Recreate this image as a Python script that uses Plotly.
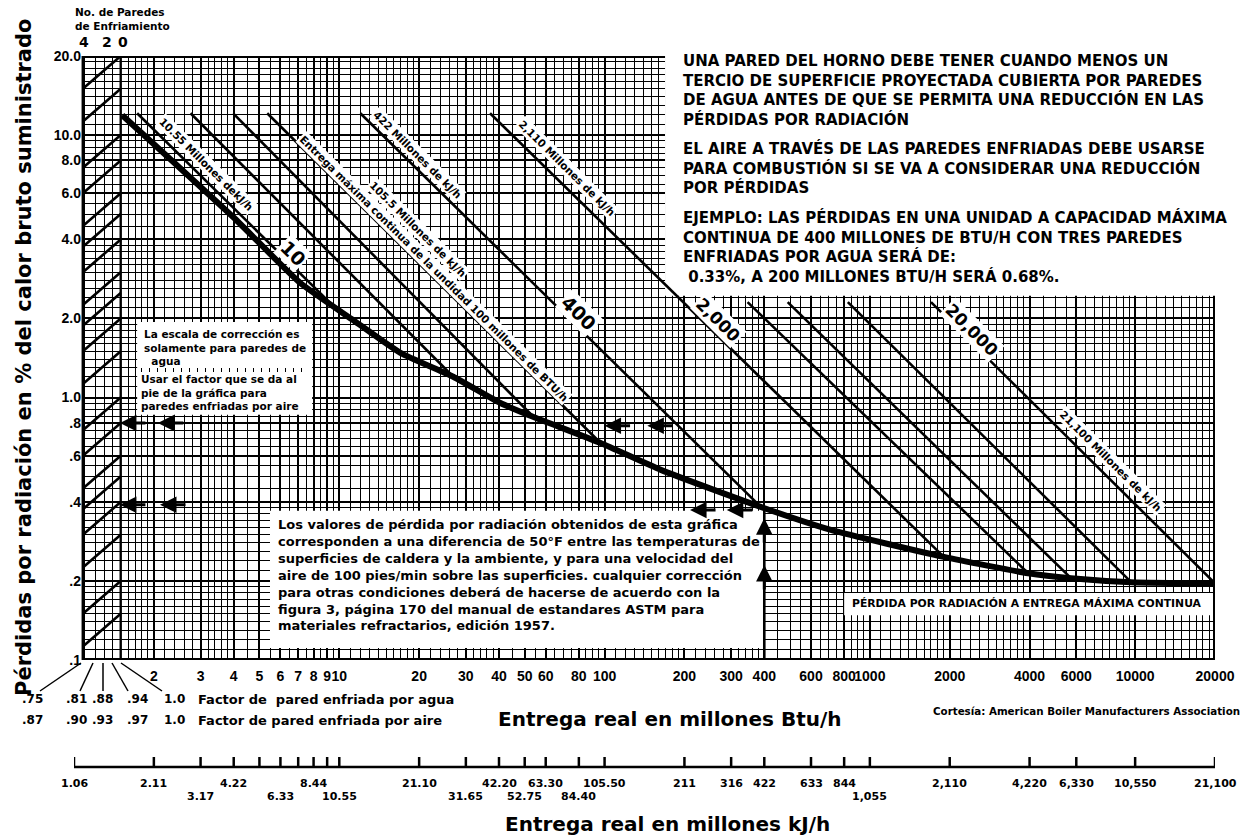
import math
import plotly.graph_objects as go

L = math.log10

# ---------------- DATA ----------------
# Envelope: radiation loss (%) at maximum continuous output (million Btu/h)
curve_output = [1.52, 3.98, 7.13, 11.3, 17.0, 26.9, 40.5, 54.0, 96.6, 163, 388, 713, 1900, 3950, 5730, 9660, 20000]
curve_loss = [11.9, 4.87, 2.73, 1.97, 1.48, 1.20, 0.953, 0.843, 0.671, 0.530, 0.383, 0.313, 0.247, 0.214, 0.205, 0.198, 0.196]

# Lines of constant maximum continuous output (start point -> end on envelope)
cap_start_x = [1.73, 2.75, 3.98, 5.35, 12.0, 37.0, 346, 490, 826, 1700]
cap_start_y = [12.1, 12.1, 12.1, 12.1, 12.1, 12.1, 2.31, 2.31, 2.31, 2.31]
cap_end_x = [10.0, 26.9, 54.0, 96.6, 388, 1900, 3950, 5730, 9660, 20000]
cap_end_y = [2.12, 1.20, 0.843, 0.671, 0.383, 0.247, 0.214, 0.205, 0.198, 0.196]

# Correction scale (number of cooled walls)
corr_loss_zero_walls = [20, 15, 10, 8, 6, 5, 4, 3, 2.5, 2, 1.5, 1.0, 0.8, 0.6, 0.5, 0.4, 0.3, 0.2, 0.15]
corr_factor_four_walls = 0.75
wall_counts = ["4", "2", "0"]
water_factor_labels = [".75", ".81", ".88", ".94", "1.0"]
air_factor_labels = [".87", ".90", ".93", ".97", "1.0"]

# Axis ticks
x_tick_vals = [2, 3, 4, 5, 6, 7, 8, 9, 10, 20, 30, 40, 50, 60, 80, 100, 200, 300, 400, 600, 800,
               1000, 2000, 4000, 6000, 10000, 20000]
x_tick_text = ["2", "3", "4", "5", "6", "7", "8", "9", "10", "20", "30", "40", "50", "60", "80", "100",
               "200", "300", "400", "600", "800", "1000", "2000", "4000", "6000", "10000", "20000"]
y_tick_vals = [0.1, 0.2, 0.4, 0.6, 0.8, 1, 2, 4, 6, 8, 10, 20]
y_tick_text = [".1", ".2", ".4", ".6", ".8", "1.0", "2.0", "4.0", "6.0", "8.0", "10.0", "20.0"]

# Secondary scale in million kJ/h (positions given in million Btu/h)
kj_tick_btu = [1, 2, 3, 4, 5, 6, 7, 8, 9, 10, 20, 30, 40, 50, 60, 80, 100, 200, 300, 400, 600, 800,
               1000, 2000, 4000, 6000, 10000, 20000]
kj_row1_btu = [1, 2, 4, 8, 20, 40, 60, 100, 200, 300, 400, 600, 800, 2000, 4000, 6000, 10000, 20000]
kj_row1_text = ["1.06", "2.11", "4.22", "8.44", "21.10", "42.20", "63.30", "105.50", "211", "316", "422",
                "633", "844", "2,110", "4,220", "6,330", "10,550", "21,100"]
kj_row2_btu = [3, 6, 10, 30, 50, 80, 1000]
kj_row2_text = ["3.17", "6.33", "10.55", "31.65", "52.75", "84.40", "1,055"]

# Worked example arrows (head positions)
ex_left_arrow_x = [1.49, 2.07, 1.49, 2.11, 100, 145, 210, 289]
ex_left_arrow_y = [0.80, 0.80, 0.39, 0.39, 0.78, 0.78, 0.373, 0.373]
ex_result_y = [0.68, 0.33]
ex_example_output = 400
ex_up_arrow_y = [0.347, 0.23]

# ---------------- LAYOUT CONSTANTS ----------------
W, H = 1250, 838
PL, PR, PT, PB = 74, 1215, 56, 660
X_MIN, X_MAX = 1.0, 20000
Y_MIN, Y_MAX = 0.1, 20
X_LEFT_EDGE = 1.08      # visible left border of the grid
CORR_X_LEFT, CORR_X_RIGHT = 1.08, 1.5
WALL_LABEL_X = [1.09, 1.33, 1.53]
BOX_TR = (169, 2.44)    # top-right blank area corner (x, y)
FONT = "Liberation Sans"
WIDE = "DejaVu Sans"


def pxx(px):
    return (px - PL) / (PR - PL)


def pxy(py):
    return (PB - py) / (PB - PT)


# grid values
def steps(a, b, s):
    out, v = [], a
    while v < b - 1e-9:
        out.append(round(v, 6))
        v += s
    return out


minor_x = []
for a, b, s in [(1.1, 2, 0.1), (2.2, 4, 0.2), (4.5, 10, 0.5), (11, 20, 1), (22, 40, 2), (45, 100, 5),
                (110, 200, 10), (220, 400, 20), (450, 1000, 50), (1100, 2000, 100), (2200, 4000, 200),
                (4500, 10000, 500), (11000, 20000, 1000)]:
    minor_x += steps(a, b, s)
minor_x = [v for v in minor_x if v not in x_tick_vals]

minor_y = []
for a, b, s in [(0.11, 0.2, 0.01), (0.22, 0.4, 0.02), (0.45, 1, 0.05), (1.1, 2, 0.1), (2.2, 4, 0.2),
                (4.5, 10, 0.5), (11, 20, 1)]:
    minor_y += steps(a, b, s)
minor_y = [v for v in minor_y if v not in y_tick_vals]

fig = go.Figure()

# correction lines
cx, cy = [], []
for v in corr_loss_zero_walls:
    cx += [CORR_X_LEFT, CORR_X_RIGHT, None]
    cy += [v * corr_factor_four_walls, v, None]
fig.add_trace(go.Scatter(x=cx, y=cy, mode="lines", line=dict(color="black", width=2.6),
                         hoverinfo="skip"))

# capacity lines
lx, ly = [], []
for i in range(len(cap_start_x)):
    lx += [cap_start_x[i], cap_end_x[i], None]
    ly += [cap_start_y[i], cap_end_y[i], None]
fig.add_trace(go.Scatter(x=lx, y=ly, mode="lines", line=dict(color="black", width=2.6),
                         hoverinfo="skip"))

# envelope
fig.add_trace(go.Scatter(x=curve_output, y=curve_loss, mode="lines",
                         line=dict(color="black", width=6, shape="spline", smoothing=0.5),
                         hoverinfo="skip"))

shapes = []


# NOTE: shapes on log axes take data values here
def rect(x0, x1, y0, y1):
    shapes.append(dict(type="rect", layer="between", xref="x", yref="y",
                       x0=x0, x1=x1, y0=y0, y1=y1,
                       fillcolor="white", line=dict(width=0)))


def seg(x0, y0, x1, y1, w=4, layer="between"):
    shapes.append(dict(type="line", layer=layer, xref="x", yref="y",
                       x0=x0, x1=x1, y0=y0, y1=y1,
                       line=dict(color="black", width=w)))


# white areas
rect(X_MIN, X_LEFT_EDGE, Y_MIN, Y_MAX)
rect(BOX_TR[0], X_MAX * 1.2, BOX_TR[1], Y_MAX * 1.2)
rect(1.73, 7.9, 0.86, 1.94)
rect(5.48, ex_example_output, 0.111, 0.37)
rect(800, X_MAX * 1.2, 0.148, 0.18)
# borders
seg(X_LEFT_EDGE, Y_MIN, X_LEFT_EDGE, Y_MAX, w=2.6)
seg(CORR_X_RIGHT, Y_MIN, CORR_X_RIGHT, Y_MAX, w=2.4)
seg(X_LEFT_EDGE, Y_MIN, X_MAX, Y_MIN)
seg(X_LEFT_EDGE, Y_MAX, BOX_TR[0], Y_MAX)
seg(X_MAX, Y_MIN, X_MAX, BOX_TR[1])
# example vertical line at 400
seg(ex_example_output, Y_MIN, ex_example_output, 0.383, w=2.6)

# kJ axis line and ticks
KJ_LINE = pxy(767)
shapes.append(dict(type="line", xref="x", yref="paper", x0=X_MIN, x1=X_MAX, y0=KJ_LINE, y1=KJ_LINE,
                   line=dict(color="black", width=2.5)))
for v in kj_tick_btu:
    shapes.append(dict(type="line", xref="x", yref="paper", x0=v, x1=v, y0=KJ_LINE, y1=pxy(757),
                       line=dict(color="black", width=2.5)))

# connectors from factor labels to the axis corner
for (ax_, ay_, bx_, by_) in [(40, 691, 81, 663), (80, 691, 93, 663), (103, 691, 103, 663),
                             (128, 691, 112, 663), (162, 691, 121, 663)]:
    shapes.append(dict(type="line", xref="paper", yref="paper", x0=pxx(ax_), y0=pxy(ay_),
                       x1=pxx(bx_), y1=pxy(by_), line=dict(color="black", width=1.5)))

# dotted separator in small box
shapes.append(dict(type="line", xref="paper", yref="paper", x0=pxx(141), x1=pxx(308), y0=pxy(370),
                   y1=pxy(370), line=dict(color="black", width=4, dash="1px,7px")))

ann = []


def txt(x, y, text, size, xanchor="center", yanchor="middle", align="center", family=WIDE,
        angle=0, bg=None, xref="paper", yref="paper"):
    d = dict(x=x, y=y, xref=xref, yref=yref, text=text, showarrow=False, xanchor=xanchor,
             yanchor=yanchor, align=align, textangle=angle,
             font=dict(family=family, size=size, color="black"))
    if bg:
        d["bgcolor"] = bg
        d["borderpad"] = 1
    ann.append(d)


# axis titles
txt(pxx(24), pxy(357), "<b>Pérdidas por radiación en % del calor bruto suministrado</b>", 21, angle=-90)
txt(pxx(670), pxy(719), "<b>Entrega real en millones Btu/h</b>", 20)
txt(pxx(668), pxy(824), "<b>Entrega real en millones kJ/h</b>", 20)
txt(pxx(1242), pxy(711), "<b>Cortesía: American Boiler Manufacturers Association</b>", 10.3,
    xanchor="right")

# header of the correction scale
txt(pxx(73), pxy(19), "<b>No. de Paredes<br>de Enfriamiento</b>", 10.5, xanchor="left", align="left")
for w_lbl, w_x in zip(wall_counts, WALL_LABEL_X):
    txt(L(w_x), pxy(42), "<b>%s</b>" % w_lbl, 14, xref="x")

# factor labels
fac_px = [32, 76, 102, 137, 174]
for lbl, p in zip(water_factor_labels, fac_px):
    txt(pxx(p), pxy(699), "<b>%s</b>" % lbl, 12)
for lbl, p in zip(air_factor_labels, fac_px):
    txt(pxx(p), pxy(720), "<b>%s</b>" % lbl, 12)
txt(pxx(196), pxy(699), "<b>Factor de  pared enfriada por agua</b>", 13, xanchor="left")
txt(pxx(196), pxy(720), "<b>Factor de pared enfriada por aire</b>", 13, xanchor="left")

# kJ labels
for v, t in zip(kj_row1_btu, kj_row1_text):
    txt(L(v), pxy(783), "<b>%s</b>" % t, 11, xref="x")
for v, t in zip(kj_row2_btu, kj_row2_text):
    txt(L(v), pxy(796), "<b>%s</b>" % t, 11, xref="x")

# top-right notes
txt(pxx(681), pxy(90.5), "<b>UNA PARED DEL HORNO DEBE TENER CUANDO MENOS UN<br>"
    "TERCIO DE SUPERFICIE PROYECTADA CUBIERTA POR PAREDES<br>"
    "DE AGUA ANTES DE QUE SE PERMITA UNA REDUCCIÓN EN LAS<br>"
    "PÉRDIDAS POR RADIACIÓN</b>", 15, xanchor="left", align="left")
txt(pxx(681), pxy(168), "<b>EL AIRE A TRAVÉS DE LAS PAREDES ENFRIADAS DEBE USARSE<br>"
    "PARA COMBUSTIÓN SI SE VA A CONSIDERAR UNA REDUCCIÓN<br>"
    "POR PÉRDIDAS</b>", 15, xanchor="left", align="left")
txt(pxx(681), pxy(246.5), "<b>EJEMPLO: LAS PÉRDIDAS EN UNA UNIDAD A CAPACIDAD MÁXIMA<br>"
    "CONTINUA DE 400 MILLONES DE BTU/H CON TRES PAREDES<br>"
    "ENFRIADAS POR AGUA SERÁ DE:<br>"
    "&nbsp;0.33%, A 200 MILLONES BTU/H SERÁ 0.68%.</b>", 15, xanchor="left", align="left")

# small box notes
txt(pxx(142), pxy(347), "<b>La escala de corrección es<br>solamente para paredes de<br>&nbsp;&nbsp;agua</b>",
    10.5, xanchor="left", align="left")
txt(pxx(139), pxy(392), "<b>Usar el factor que se da al<br>pie de la gráfica para<br>paredes enfriadas por aire</b>",
    10.5, xanchor="left", align="left")

# big box note
txt(pxx(276), pxy(575), "<b>Los valores de pérdida por radiación obtenidos de esta gráfica<br>"
    "corresponden a una diferencia de 50°F entre las temperaturas de<br>"
    "superficies de caldera y la ambiente, y para una velocidad del<br>"
    "aire de 100 pies/min sobre las superficies. cualquier corrección<br>"
    "para otras condiciones deberá de hacerse de acuerdo con la<br>"
    "figura 3, página 170 del manual de estandares ASTM para<br>"
    "materiales refractarios, edición 1957.</b>", 13, xanchor="left", align="left")

txt(L(3900), L(0.164), "<b>PÉRDIDA POR RADIACIÓN A ENTREGA MÁXIMA CONTINUA</b>", 10.8, xref="x", yref="y")

# diagonal labels
diag = [
    (3.15, 7.76, "<b>10.55 Millones dekJ/h</b>", 10.5),
    (6.69, 3.55, "<b>10</b>", 19),
    (22.7, 3.11, "<b>Entrega máxima continua de la undidad 100 millones de BTU/h</b>", 10.5),
    (19.8, 4.39, "<b>105.5 Millones de kJ/h</b>", 10.5),
    (19.8, 8.39, "<b>422 Millones de kJ/h</b>", 10.5),
    (72.2, 7.49, "<b>2,110 Millones de kJ/h</b>", 10.5),
    (80.1, 2.10, "<b>400</b>", 19),
    (268, 1.97, "<b>2,000</b>", 17),
    (2425, 1.81, "<b>20,000</b>", 17),
    (8106, 0.573, "<b>21,100 Millones de kJ/h</b>", 10.5),
]
for x, y, t, s in diag:
    txt(L(x), L(y), t, s, angle=44.7, bg="white", xref="x", yref="y")


def arrow(x, y, ax, ay, xref="x"):
    ann.append(dict(x=L(x), y=L(y), xref=xref, yref="y", text="", showarrow=True, ax=ax, ay=ay,
                    arrowhead=2, arrowsize=1.1, arrowwidth=3, arrowcolor="black", standoff=0))


for x, y in zip(ex_left_arrow_x, ex_left_arrow_y):
    arrow(x, y, 27, 0)
for y in ex_result_y:
    arrow(0.925, y, 30, 0)
for y in ex_up_arrow_y:
    arrow(ex_example_output, y, 0, 26)

fig.update_layout(
    width=W, height=H, autosize=False,
    margin=dict(l=PL, r=W - PR, t=PT, b=H - PB, pad=0),
    plot_bgcolor="white", paper_bgcolor="white", showlegend=False,
    font=dict(family=FONT, color="black"),
    shapes=shapes, annotations=ann,
    xaxis=dict(type="log", range=[L(X_MIN), L(X_MAX)], tickmode="array", tickvals=x_tick_vals,
               ticktext=x_tick_text, ticks="", showline=False, zeroline=False, tickangle=0,
               showgrid=True, gridcolor="black", gridwidth=2,
               minor=dict(tickmode="array", tickvals=minor_x, showgrid=True, gridcolor="black",
                          gridwidth=1.4, ticks=""),
               tickfont=dict(family=FONT, size=14, color="black", weight="bold"),
               ticklabelstandoff=6, fixedrange=True),
    yaxis=dict(type="log", range=[L(Y_MIN), L(Y_MAX)], tickmode="array", tickvals=y_tick_vals,
               ticktext=y_tick_text, ticks="", showline=False, zeroline=False,
               showgrid=True, gridcolor="black", gridwidth=2,
               minor=dict(tickmode="array", tickvals=minor_y, showgrid=True, gridcolor="black",
                          gridwidth=1.4, ticks=""),
               tickfont=dict(family=FONT, size=14, color="black", weight="bold"),
               ticklabelstandoff=-8, fixedrange=True),
)

fig.write_html("out.html")
